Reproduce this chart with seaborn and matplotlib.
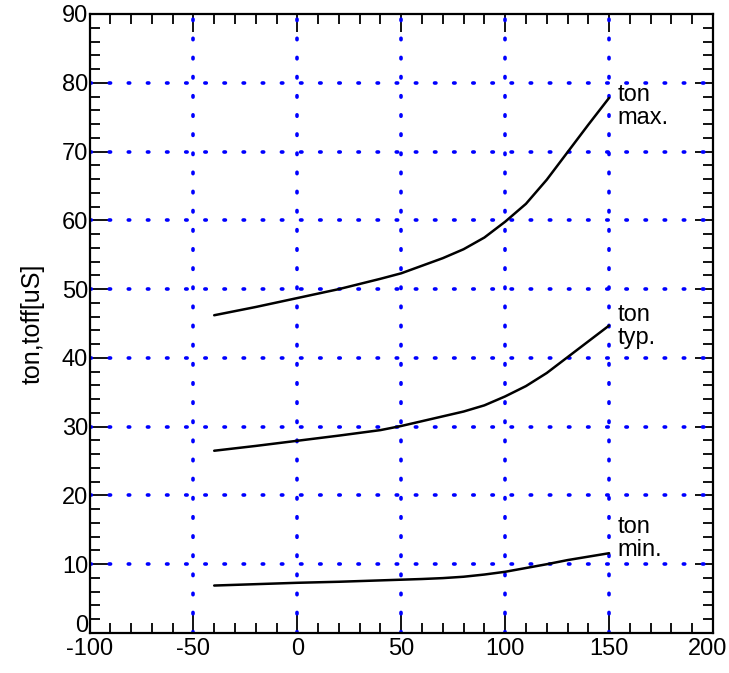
import numpy as np
import pandas as pd
import matplotlib
matplotlib.use("Agg")
import matplotlib.pyplot as plt
import matplotlib.transforms as mtransforms
import seaborn as sns

# Junction temperature [deg C]
temp = [-40, -20, 0, 20, 40, 50, 60, 70, 80, 90, 100, 110, 120, 130, 140, 150]
# switching times [uS]
ton_max = [46.2, 47.4, 48.7, 50.0, 51.5, 52.3, 53.4, 54.5, 55.8, 57.5, 59.8,
           62.4, 65.9, 69.9, 73.9, 77.8]
ton_typ = [26.5, 27.2, 27.95, 28.7, 29.5, 30.1, 30.8, 31.5, 32.2, 33.1, 34.4,
           35.9, 37.8, 40.1, 42.4, 44.7]
ton_min = [6.9, 7.1, 7.3, 7.45, 7.65, 7.75, 7.85, 7.98, 8.18, 8.5, 8.9,
           9.45, 10.0, 10.6, 11.1, 11.6]

curve_labels = ["ton\nmax.", "ton\ntyp.", "ton\nmin."]
label_x = 154
label_y = [76.6, 44.6, 13.7]

df = pd.DataFrame({
    "temp": temp * 3,
    "t": ton_max + ton_typ + ton_min,
    "curve": ["max"] * len(temp) + ["typ"] * len(temp) + ["min"] * len(temp),
})

sns.set_style("ticks")
plt.rcParams["font.family"] = ["Liberation Sans", "DejaVu Sans"]
plt.rcParams["axes.unicode_minus"] = False
plt.rcParams["text.color"] = "black"
plt.rcParams["axes.labelcolor"] = "black"

fig = plt.figure(figsize=(7.29, 6.73), dpi=100)
ax = fig.add_axes([89.5 / 729, 40 / 673, 623.5 / 729, 619 / 673])

sns.lineplot(data=df, x="temp", y="t", units="curve", estimator=None,
             color="black", linewidth=1.8, ax=ax, legend=False)

ax.set_xlim(-100, 200)
ax.set_ylim(0, 90)
ax.set_xticks(np.arange(-100, 201, 50))
ax.set_yticks(np.arange(0, 91, 10))
ax.set_xticks(np.arange(-100, 201, 10), minor=True)
ax.set_yticks(np.arange(0, 91, 2), minor=True)

# blue dotted grid at the inner major ticks
grid_style = dict(color="#0000ff", linewidth=2.6, linestyle=(0, (0.4, 4.9)),
                  dash_capstyle="round", zorder=1)
for gx in [-50, 0, 50, 100, 150]:
    ax.axvline(gx, **grid_style)
for gy in range(10, 90, 10):
    ax.axhline(gy, **grid_style)

ax.tick_params(which="both", direction="in", top=True, right=True,
               width=1.3, colors="black", labelsize=17)
ax.tick_params(which="major", length=13, pad=1)
ax.tick_params(which="minor", length=7.5)
ax.tick_params(axis="x", which="major", pad=3.5)
for s in ax.spines.values():
    s.set_linewidth(1.6)
    s.set_color("black")

# nudge the corner labels so they stay inside / apart, like the original
lab = ax.xaxis.get_major_ticks()[-1].label1
lab.set_transform(lab.get_transform() +
                  mtransforms.ScaledTranslation(-5 / 100, 0, fig.dpi_scale_trans))
lab = ax.yaxis.get_major_ticks()[0].label1
lab.set_transform(lab.get_transform() +
                  mtransforms.ScaledTranslation(0, 9 / 100, fig.dpi_scale_trans))

for txt, ly in zip(curve_labels, label_y):
    ax.text(label_x, ly, txt, fontsize=17, va="center", ha="left",
            linespacing=1.05, color="black")

ax.set_xlabel("")
ax.set_ylabel("ton,toff[uS]", fontsize=18, labelpad=12)

fig.savefig("out.png", dpi=100)
